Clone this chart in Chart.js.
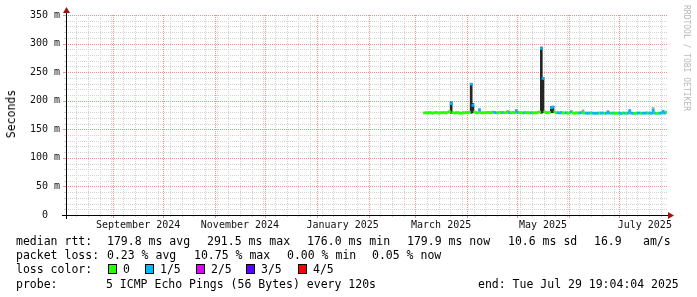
<!DOCTYPE html>
<html>
<head>
<meta charset="utf-8">
<script src="https://cdn.jsdelivr.net/npm/chart.js@4.4.1/dist/chart.umd.min.js"></script>
<style>
  html, body { margin: 0; padding: 0; background: #fff; }
  #wrap { position: relative; width: 697px; height: 297px; overflow: hidden;
          font-family: "DejaVu Sans Mono", monospace; color: #000; }
  #graph { position: absolute; left: 0; top: 0; }
  .t { position: absolute; font-size: 11.5px; line-height: 14px; white-space: pre; }
  .box { position: absolute; width: 7px; height: 8px; border: 1px solid #000; }
  #ylab { position: absolute; left: 11px; top: 114px; font-size: 11.5px; white-space: pre;
          transform: translate(-50%, -50%) rotate(-90deg); }
  #mark { position: absolute; left: 682px; top: 5px; writing-mode: vertical-rl;
          font-size: 8px; line-height: 8px; color: #b8b8b8; white-space: pre; }
</style>
</head>
<body>
<div id="wrap">
  <canvas id="graph" width="697" height="297"></canvas>
  <div id="ylab">Seconds</div>
  <div id="mark">RRDTOOL / TOBI OETIKER</div>

  <div class="t" style="left:16px;top:234px">median rtt:</div>
  <div class="t" style="left:107px;top:234px">179.8 ms avg</div>
  <div class="t" style="left:207px;top:234px">291.5 ms max</div>
  <div class="t" style="left:307px;top:234px">176.0 ms min</div>
  <div class="t" style="left:407px;top:234px">179.9 ms now</div>
  <div class="t" style="left:508px;top:234px">10.6 ms sd</div>
  <div class="t" style="left:594px;top:234px">16.9</div>
  <div class="t" style="left:643px;top:234px">am/s</div>

  <div class="t" style="left:16px;top:248px">packet loss:</div>
  <div class="t" style="left:107px;top:248px">0.23 % avg</div>
  <div class="t" style="left:194px;top:248px">10.75 % max</div>
  <div class="t" style="left:287px;top:248px">0.00 % min</div>
  <div class="t" style="left:372px;top:248px">0.05 % now</div>

  <div class="t" style="left:16px;top:262px">loss color:</div>
  <div id="losskey"></div>

  <div class="t" style="left:16px;top:277px">probe:</div>
  <div class="t" style="left:106px;top:277px">5 ICMP Echo Pings (56 Bytes) every 120s</div>
  <div class="t" style="left:478px;top:277px">end: Tue Jul 29 19:04:04 2025</div>
</div>

<script>
const DAY = 86400000;
const endTime = Date.UTC(2025, 6, 29, 19, 4, 4);
const startTime = endTime - 360 * DAY;
const firstDay = Date.UTC(2025, 2, 6, 12);   // first sample, one sample per day

// median rtt in ms, one value per day from Mar 6 2025
const medianRtt = [
    178.6, 179.1, 178.4, 179.3, 178.8, 178.2, 179.0, 179.6, 178.7, 178.3,
    179.2, 178.9, 179.4, 178.5, 179.8, 181.0, 195.0, 179.2, 178.4, 178.9,
    179.3, 178.6, 178.1, 179.0, 178.7, 179.5, 178.8, 179.9, 229.0, 192.0,
    180.2, 179.1, 178.6, 184.0, 179.0, 178.5, 179.3, 178.8, 179.6, 178.9,
    179.2, 180.1, 179.5, 178.9, 178.6, 179.8, 179.1, 179.4, 178.8, 179.5,
    180.4, 179.2, 178.7, 179.6, 179.0, 181.5, 179.6, 178.9, 179.3, 178.5,
    179.2, 178.8, 179.5, 178.6, 179.0, 178.4, 179.1, 178.7, 179.6, 180.2,
    291.5, 239.0, 180.5, 179.2, 178.8, 179.6, 188.0, 189.0, 180.3, 178.9,
    179.1, 178.6, 179.4, 178.3, 179.0, 178.8, 178.2, 178.9, 180.8, 178.5,
    178.1, 178.9, 178.4, 178.6, 179.1, 179.3, 178.3, 178.5, 178.0, 178.6,
    178.2, 178.4, 177.9, 178.3, 178.1, 178.7, 178.2, 178.5, 178.0, 178.4,
    179.6, 178.3, 178.1, 178.5, 177.9, 178.4, 178.1, 178.3, 177.8, 178.6,
    178.2, 178.0, 178.5, 182.0, 178.3, 178.1, 177.8, 178.4, 178.2, 178.6,
    177.9, 178.4, 178.1, 178.7, 178.2, 178.5, 178.0, 183.0, 178.4, 177.9,
    178.3, 178.1, 178.6, 181.5, 178.3, 179.9
];

// pings lost out of 5 for each day
const lossLevel = [
    0, 0, 0, 0, 0, 0, 0, 0, 0, 0,
    0, 0, 0, 0, 0, 0, 1, 0, 0, 0,
    0, 0, 0, 0, 0, 0, 0, 0, 1, 1,
    0, 0, 0, 1, 0, 0, 0, 0, 0, 0,
    0, 0, 1, 1, 0, 0, 0, 1, 0, 0,
    0, 1, 0, 0, 0, 1, 1, 0, 0, 0,
    1, 0, 0, 0, 1, 0, 0, 0, 0, 0,
    1, 1, 0, 0, 0, 0, 1, 1, 0, 0,
    1, 1, 1, 0, 0, 1, 0, 0, 1, 0,
    0, 0, 0, 1, 1, 0, 0, 1, 1, 1,
    0, 1, 1, 1, 1, 0, 1, 1, 0, 1,
    1, 1, 0, 1, 0, 0, 0, 1, 1, 0,
    1, 0, 1, 1, 1, 1, 0, 0, 1, 1,
    0, 1, 1, 1, 0, 1, 1, 1, 1, 0,
    0, 1, 1, 1, 1, 0
];

// visible smoke (ping spread) columns
const smokeDay  = [16,  28,  29,  33,  50,  55,  70,  71,  76,  77,  95,  110, 123, 137, 143];
const smokeLow  = [178, 178, 179, 178, 178, 178, 178, 179, 179, 179, 177, 177, 177, 177, 177];
const smokeHigh = [198, 230, 195, 186, 183, 185, 294, 241, 190, 190, 184, 183, 185, 188, 183];

const lossNames  = ['0', '1/5', '2/5', '3/5', '4/5'];
const lossColors = ['#26ff00', '#00b8ff', '#dd00ff', '#5e00ff', '#ff0000'];

// month grid lines (year, month index) and the months that carry a label
const monthStarts = [[2024, 8], [2024, 9], [2024, 10], [2024, 11], [2025, 0], [2025, 1],
                     [2025, 2], [2025, 3], [2025, 4], [2025, 5], [2025, 6]];
const labelMonths = [[2024, 8], [2024, 10], [2025, 0], [2025, 2], [2025, 4], [2025, 6]];
const xLabels = ['September 2024', 'November 2024', 'January 2025', 'March 2025', 'May 2025', 'July 2025'];

const yMax = 350;
const yMinorStep = 10;
const yMajorStep = 50;

// legend swatches
const keyBoxX = [108, 145, 196, 246, 298];
const keyText = document.getElementById('losskey');
lossNames.forEach((name, i) => {
    const b = document.createElement('div');
    b.className = 'box';
    b.style.cssText = `left:${keyBoxX[i]}px;top:264px;background:${lossColors[i]}`;
    keyText.appendChild(b);
    const t = document.createElement('div');
    t.className = 't';
    t.style.cssText = `left:${keyBoxX[i] + 15}px;top:262px`;
    t.textContent = name;
    keyText.appendChild(t);
});

// tick positions
const monthSet = new Set(monthStarts.map(([y, m]) => Date.UTC(y, m, 1)));
const weekSet = new Set();
for (let t = Date.UTC(2024, 7, 10); t < endTime; t += 7 * DAY) {
    if (!monthSet.has(t)) weekSet.add(t);
}
const labelMap = new Map();
labelMonths.forEach(([y, m], i) => {
    const mid = (Date.UTC(y, m, 1) + Date.UTC(y, m + 1, 1)) / 2;
    labelMap.set(mid, xLabels[i]);
});

const MAJOR = '#ec9090';
const MINOR = '#d3d3d3';
const NONE = 'rgba(0,0,0,0)';
const MED_HALF = 1.8;   // half thickness of the median band, ms

const medianData = medianRtt.map((v, i) => ({ x: firstDay + i * DAY, y: [v - MED_HALF, v + MED_HALF] }));
const smokeData = smokeDay.map((d, i) => ({ x: firstDay + d * DAY, y: [smokeLow[i], smokeHigh[i]] }));

// rrdtool style dotted grid, drawn from the chart's own scales
const rrdGrid = {
    id: 'rrdGrid',
    beforeDatasetsDraw(chart) {
        const { ctx, chartArea: a, scales: { x, y } } = chart;
        const px = v => Math.round(x.getPixelForValue(v)) + 0.5;
        const py = v => Math.round(y.getPixelForValue(v)) + 0.5;
        ctx.save();
        ctx.lineWidth = 1;
        const pass = (color, xs, ys, ext) => {
            ctx.strokeStyle = color;
            ctx.setLineDash([1, 1]);
            ctx.beginPath();
            xs.forEach(v => { const p = px(v); ctx.moveTo(p, a.top); ctx.lineTo(p, a.bottom); });
            ys.forEach(v => { const p = py(v); ctx.moveTo(a.left, p); ctx.lineTo(a.right, p); });
            ctx.stroke();
            ctx.setLineDash([]);
            ctx.beginPath();
            xs.forEach(v => { const p = px(v); ctx.moveTo(p, a.bottom); ctx.lineTo(p, a.bottom + ext); });
            ys.forEach(v => { const p = py(v); ctx.moveTo(a.left, p); ctx.lineTo(a.left - ext, p); });
            ctx.stroke();
        };
        const minorY = [], majorY = [];
        for (let v = yMinorStep; v <= yMax; v += yMinorStep) {
            (v % yMajorStep === 0 ? majorY : minorY).push(v);
        }
        pass(MINOR, [...weekSet], minorY, 2);
        pass(MAJOR, [...monthSet], majorY, 3);
        ctx.restore();
    },
    afterDraw(chart) {
        const { ctx, chartArea: a } = chart;
        const yb = a.bottom + 0.5;
        const xl = a.left + 0.5;
        ctx.save();
        ctx.strokeStyle = '#000';
        ctx.lineWidth = 1;
        ctx.beginPath();
        ctx.moveTo(a.left - 4, yb);
        ctx.lineTo(a.right + 2, yb);
        ctx.moveTo(xl, a.bottom + 4);
        ctx.lineTo(xl, a.top - 3);
        ctx.stroke();
        ctx.fillStyle = '#a01414';
        ctx.beginPath();
        ctx.moveTo(a.right + 1, yb - 3.5);
        ctx.lineTo(a.right + 7, yb);
        ctx.lineTo(a.right + 1, yb + 3.5);
        ctx.closePath();
        ctx.fill();
        ctx.beginPath();
        ctx.moveTo(xl - 3.5, a.top - 2);
        ctx.lineTo(xl, a.top - 8);
        ctx.lineTo(xl + 3.5, a.top - 2);
        ctx.closePath();
        ctx.fill();
        ctx.restore();
    }
};

const tickFont = { family: 'DejaVu Sans Mono', size: 10 };
const hiddenGrid = { display: true, drawOnChartArea: false, drawTicks: true, tickLength: 3, tickColor: NONE };

new Chart(document.getElementById('graph'), {
    type: 'bar',
    data: {
        datasets: [{
            label: 'median',
            data: medianData,
            order: 0,
            grouped: false,
            barThickness: 2,
            borderWidth: 0,
            backgroundColor: ctx => lossColors[lossLevel[ctx.dataIndex]]
        }, {
            label: 'smoke',
            data: smokeData,
            order: 1,
            grouped: false,
            barThickness: 2,
            borderWidth: 0,
            backgroundColor: ctx => smokeHigh[ctx.dataIndex] >= 190 ? '#262626' : '#a2a2a2'
        }]
    },
    options: {
        responsive: false,
        animation: false,
        devicePixelRatio: 1,
        layout: { padding: { left: 0, top: 15, right: 30, bottom: 0 } },
        plugins: {
            legend: { display: false },
            tooltip: { enabled: false }
        },
        scales: {
            x: {
                type: 'linear',
                min: startTime,
                max: endTime,
                offset: false,
                afterBuildTicks: axis => {
                    axis.ticks = [...labelMap.keys()].map(v => ({ value: v }));
                },
                afterFit: axis => { axis.height = 82; },
                grid: { ...hiddenGrid, offset: false },
                border: { display: false },
                ticks: {
                    autoSkip: false,
                    maxRotation: 0,
                    minRotation: 0,
                    padding: 1,
                    color: '#111',
                    font: tickFont,
                    callback: v => labelMap.get(v) || ''
                }
            },
            y: {
                type: 'linear',
                min: 0,
                max: yMax,
                afterFit: axis => { axis.width = 66; },
                grid: hiddenGrid,
                border: { display: false },
                ticks: {
                    stepSize: yMajorStep,
                    autoSkip: false,
                    padding: 3,
                    color: '#111',
                    font: tickFont,
                    callback: v => v === 0 ? '0  ' : v + ' m'
                }
            }
        }
    },
    plugins: [rrdGrid]
});
</script>
</body>
</html>
